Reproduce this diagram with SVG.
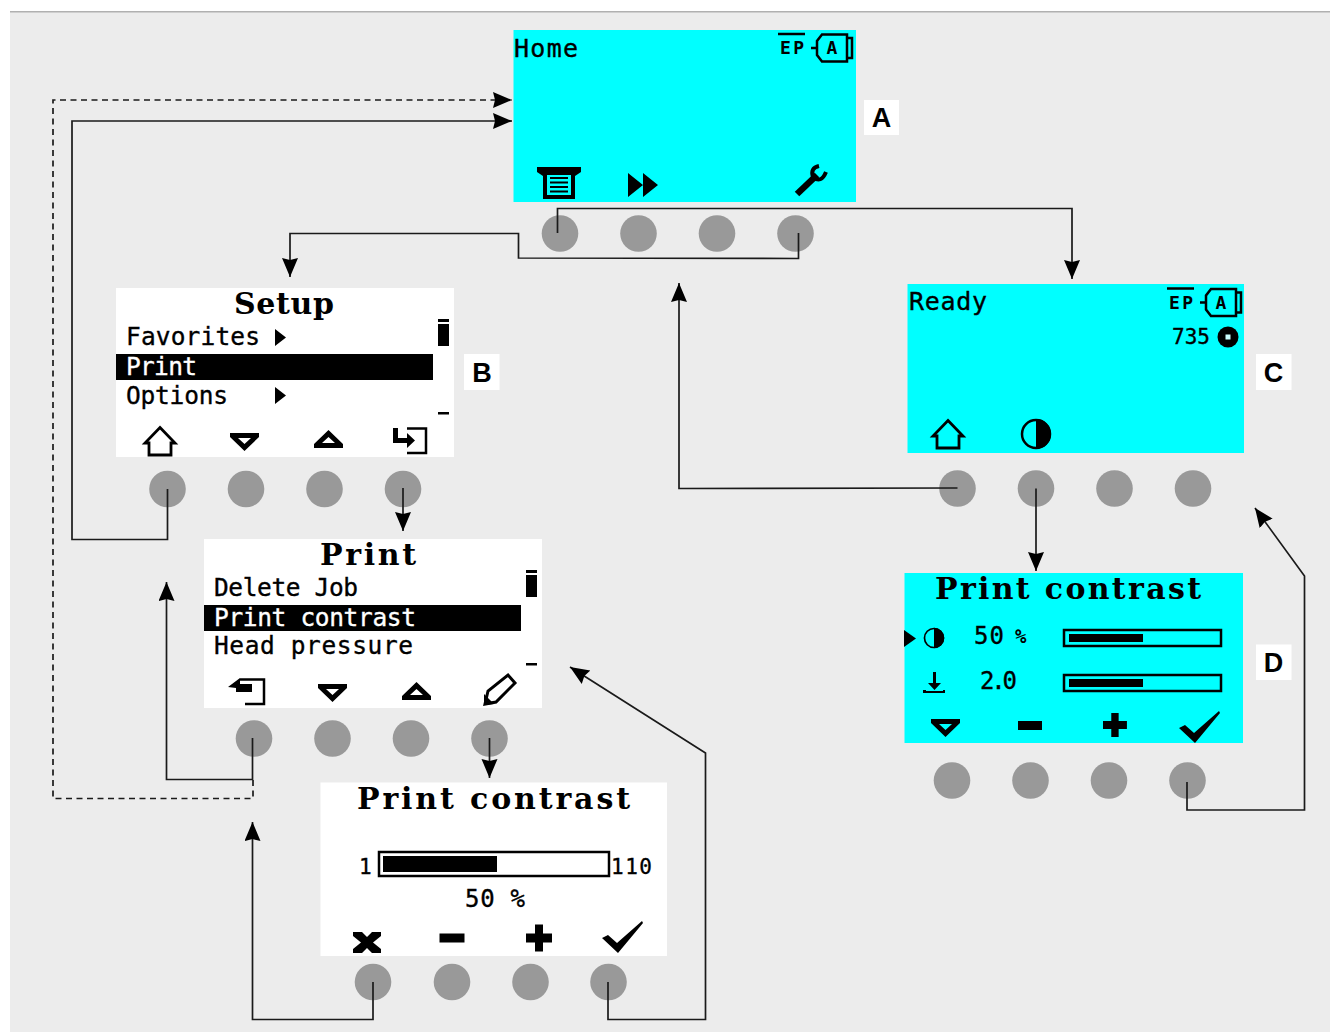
<svg xmlns="http://www.w3.org/2000/svg" width="1330" height="1032" viewBox="0 0 1330 1032">
<style>
.cy{fill:#00ffff}.wh{fill:#fff}.btn{fill:#999}
.t{font-family:"DejaVu Sans Mono","Liberation Mono",monospace;font-size:24.5px;fill:#000;stroke:#000;stroke-width:.35px}
.n{font-family:"DejaVu Sans Mono","Liberation Mono",monospace;font-size:25px;fill:#000;stroke:#000;stroke-width:.35px}
.inv{fill:#fff;stroke:#fff}
.h{font-family:"DejaVu Serif","Liberation Serif",serif;font-weight:700;font-size:30px;fill:#000}
.lb{font-family:"Liberation Sans",Arial,sans-serif;font-weight:700;font-size:27px;fill:#000;text-anchor:middle}
.c{fill:none;stroke:#1a1a1a;stroke-width:1.700;stroke-linejoin:miter}
.d{stroke-dasharray:6 4.500}
.o{fill:none;stroke:#000;stroke-width:2.500}
</style>
<defs>
<marker id="ah" markerUnits="userSpaceOnUse" markerWidth="22" markerHeight="18" refX="19" refY="8" orient="auto"><path d="M0,0L19,8L0,16L2,8Z" fill="#000"/></marker>
<g id="house"><path d="M16.500,1.500L31.500,17H27.500V29H5.500V17H1.500Z" fill="none" stroke="#000" stroke-width="2.800"/></g>
<path id="down" fill-rule="evenodd" d="M0,0H29V4L14.500,18L0,4ZM8,5L14.500,11L21,5Z"/>
<path id="up" fill-rule="evenodd" d="M14.500,0L29,14V18H0V14ZM14.500,7L8,13H21Z"/>
<path id="plus" d="M9,0H17V9H26V18H17V27H9V18H0V9H9Z"/>
<rect id="minus" width="25" height="9"/>
<polygon id="check" points="0,17 6,14 15,22 40,0 41,2 16,32"/>
<g id="half"><circle cx="0" cy="0" r="14" fill="none" stroke="#000" stroke-width="2.500"/><path d="M0,-15A15,15 0 0 1 0,15Z"/></g>
<g id="bat">
<path d="M778,34H805" stroke="#000" stroke-width="2.500"/>
<text x="780" y="54" textLength="24" style="font-family:'DejaVu Sans Mono',monospace;font-weight:700;font-size:18px">EP</text>
<path d="M811,48H817M822,34.500H847V61.500H822L817,55V41Z" fill="none" stroke="#000" stroke-width="2.500"/>
<path d="M848,38H852V58H848" fill="none" stroke="#000" stroke-width="2.500"/>
<text x="832" y="54" text-anchor="middle" style="font-family:'DejaVu Sans Mono',monospace;font-weight:700;font-size:18px">A</text>
</g>
<g id="scroll"><rect x="0" y="0" width="11" height="3"/><rect x="0" y="5" width="11" height="22"/><rect x="0" y="93" width="11" height="2.500"/></g>
</defs>

<rect x="10" y="11" width="1320" height="1021" fill="#ececec"/>
<rect x="10" y="11" width="1320" height="1.500" fill="#b0b0b0"/>

<g id="node-a">
<rect class="cy" x="513.500" y="30" width="342.500" height="172"/>
<text class="n" x="514" y="57" textLength="64">Home</text>
<use href="#bat"/>
<path d="M537,167H581V172L575,176V199H543V176L537,172Z"/>
<rect x="547" y="175" width="24" height="20" class="cy"/>
<path d="M550,178H568M550,182.500H568M550,187H568M550,191.500H568" stroke="#000" stroke-width="2"/>
<path d="M628,173L643,185L628,197ZM643,173L658,185L643,197Z"/>
<path d="M797,194L817,175" stroke="#000" stroke-width="6.500" fill="none"/>
<path d="M819,166Q810,168 813,177Q821,184 826,172" stroke="#000" stroke-width="4" fill="none"/>
<circle class="btn" cx="560" cy="233.500" r="18.300"/><circle class="btn" cx="638.500" cy="233.500" r="18.300"/><circle class="btn" cx="717" cy="233.500" r="18.300"/><circle class="btn" cx="795.500" cy="233.500" r="18.300"/>
<rect class="wh" x="864" y="100" width="35" height="35"/>
<text class="lb" x="881.500" y="127">A</text>
</g>

<g id="node-b">
<rect class="wh" x="116" y="288" width="338" height="169"/>
<text class="h" x="234" y="314" textLength="100">Setup</text>
<text class="t" x="126" y="345" textLength="134">Favorites</text>
<rect x="116" y="354" width="317" height="26"/>
<text class="t inv" x="126" y="375" textLength="71">Print</text>
<text class="t" x="126" y="404" textLength="102">Options</text>
<path d="M275,329L286,337.500L275,346ZM275,387L286,395.500L275,404Z"/>
<use href="#scroll" transform="translate(438 319)"/>
<use href="#house" transform="translate(143.500 426)"/>
<use href="#down" transform="translate(230 433)"/>
<use href="#up" transform="translate(314 430)"/>
<path d="M393,428H398V438H407V433L415,440.500L407,448V443H393Z"/>
<path d="M407,428.500H426V453H407" fill="none" stroke="#000" stroke-width="2.500"/>
<circle class="btn" cx="167.500" cy="489" r="18.300"/><circle class="btn" cx="246" cy="489" r="18.300"/><circle class="btn" cx="324.500" cy="489" r="18.300"/><circle class="btn" cx="403" cy="489" r="18.300"/>
<rect class="wh" x="464" y="354" width="35.500" height="36"/>
<text class="lb" x="482" y="382">B</text>
</g>

<g id="node-print">
<rect class="wh" x="204" y="539" width="338" height="169"/>
<text class="h" x="320" y="565" textLength="96">Print</text>
<text class="t" x="214" y="596" textLength="144">Delete Job</text>
<rect x="204" y="605" width="317" height="26"/>
<text class="t inv" x="214" y="626" textLength="202">Print contrast</text>
<text class="t" x="214" y="654" textLength="199">Head pressure</text>
<use href="#scroll" transform="translate(526 570)"/>
<path d="M228,687L240,678V684H252V692H236V688Z"/>
<path d="M240,679.500H264V704H245" fill="none" stroke="#000" stroke-width="2.500"/>
<use href="#down" transform="translate(318 684)"/>
<use href="#up" transform="translate(402 682)"/>
<path d="M485,704L488,691L508,675L515,683L496,702Z" fill="none" stroke="#000" stroke-width="3"/>
<path d="M484,705V694L494,704Z"/>
<circle class="btn" cx="254" cy="738.500" r="18.300"/><circle class="btn" cx="332.500" cy="738.500" r="18.300"/><circle class="btn" cx="411" cy="738.500" r="18.300"/><circle class="btn" cx="489.500" cy="738.500" r="18.300"/>
</g>

<g id="node-contrast-white">
<rect class="wh" x="320.500" y="782.500" width="346.500" height="173.500"/>
<text class="h" x="357" y="809" textLength="273">Print contrast</text>
<rect x="379" y="852" width="230" height="24" fill="none" stroke="#000" stroke-width="2.500"/>
<rect x="383" y="856" width="114" height="16"/>
<text class="n" x="359" y="874" style="font-size:21px">1</text>
<text class="n" x="611" y="874" style="font-size:21px" textLength="41">110</text>
<text class="n" x="465" y="907" style="font-size:24px" textLength="60">50 %</text>
<path d="M353,932H362L367,937L372,932H381V936L373,942.500L381,949V953H372L367,948L362,953H353V949L361,942.500L353,936Z"/>
<use href="#minus" transform="translate(439.500 933.500)"/>
<use href="#plus" transform="translate(526 924.500)"/>
<use href="#check" transform="translate(602 921)"/>
<circle class="btn" cx="373" cy="982" r="18.300"/><circle class="btn" cx="452" cy="982" r="18.300"/><circle class="btn" cx="530.500" cy="982" r="18.300"/><circle class="btn" cx="608.500" cy="982" r="18.300"/>
</g>

<g id="node-c">
<rect class="cy" x="907.500" y="284" width="336.500" height="169"/>
<text class="n" x="909" y="310" textLength="78">Ready</text>
<use href="#bat" transform="translate(389 254.500)"/>
<text class="n" x="1172" y="344" style="font-size:21px" textLength="38">735</text>
<circle cx="1228" cy="337" r="10.500"/><rect x="1225.500" y="334.500" width="5" height="5" fill="#ccffff"/>
<use href="#house" transform="translate(931.500 419)"/>
<use href="#half" transform="translate(1036 434)"/>
<circle class="btn" cx="957.500" cy="488.500" r="18.300"/><circle class="btn" cx="1036" cy="488.500" r="18.300"/><circle class="btn" cx="1114.500" cy="488.500" r="18.300"/><circle class="btn" cx="1193" cy="488.500" r="18.300"/>
<rect class="wh" x="1256" y="354" width="35.500" height="36"/>
<text class="lb" x="1273.500" y="382">C</text>
</g>

<g id="node-d">
<rect class="cy" x="904.500" y="573" width="338.500" height="170"/>
<text class="h" x="935" y="599" textLength="266">Print contrast</text>
<path d="M904,630L916,638.500L904,647Z"/>
<use href="#half" transform="translate(934 638) scale(.68)"/>
<text class="n" x="974" y="644" style="font-size:24px" textLength="30">50</text>
<text x="1015" y="643" textLength="14" style="font-family:'DejaVu Sans Mono',monospace;font-weight:700;font-size:19px">%</text>
<rect x="1064" y="630" width="157" height="16" class="o"/>
<rect x="1069" y="634" width="74" height="8"/>
<path d="M933,672H936V683H941L934.500,690L928,683H933ZM923,690H926V691H943V690H945V693H923Z"/>
<text class="n" x="980" y="689" style="font-size:24px" textLength="37">2.0</text>
<rect x="1064" y="675" width="157" height="16" class="o"/>
<rect x="1069" y="679" width="74" height="8"/>
<use href="#down" transform="translate(931 719)"/>
<use href="#minus" transform="translate(1018 721) scale(.96 1)"/>
<use href="#plus" transform="translate(1103 713) scale(.92 .89)"/>
<use href="#check" transform="translate(1179 711)"/>
<circle class="btn" cx="952" cy="780.500" r="18.300"/><circle class="btn" cx="1030.500" cy="780.500" r="18.300"/><circle class="btn" cx="1109" cy="780.500" r="18.300"/><circle class="btn" cx="1187.500" cy="780.500" r="18.300"/>
<rect class="wh" x="1256" y="644.500" width="35.500" height="35.500"/>
<text class="lb" x="1273.500" y="672">D</text>
</g>

<g id="connectors">
<path class="c" marker-end="url(#ah)" d="M557.500,233V208.500H1072V279"/>
<path class="c" marker-end="url(#ah)" d="M798.500,233V258.500L518.500,258V233.500H290V277"/>
<path class="c" marker-end="url(#ah)" d="M957.500,488L679,488.500V283"/>
<path class="c" marker-end="url(#ah)" d="M1036,488.500V571"/>
<path class="c" marker-end="url(#ah)" d="M1187,782V810H1304.500V576L1255,508"/>
<path class="c" marker-end="url(#ah)" d="M167.500,489V539.500H72V121H512"/>
<path class="c d" marker-end="url(#ah)" d="M253,780V798.500H53V100H512"/>
<path class="c" marker-end="url(#ah)" d="M252.500,738V779.500H166.500V582"/>
<path class="c" marker-end="url(#ah)" d="M403,488V531"/>
<path class="c" marker-end="url(#ah)" d="M489.500,738V778"/>
<path class="c" marker-end="url(#ah)" d="M373,982V1019.500H252.500V822"/>
<path class="c" marker-end="url(#ah)" d="M608,982V1019.500H705.500V753L570,667"/>
</g>
</svg>
